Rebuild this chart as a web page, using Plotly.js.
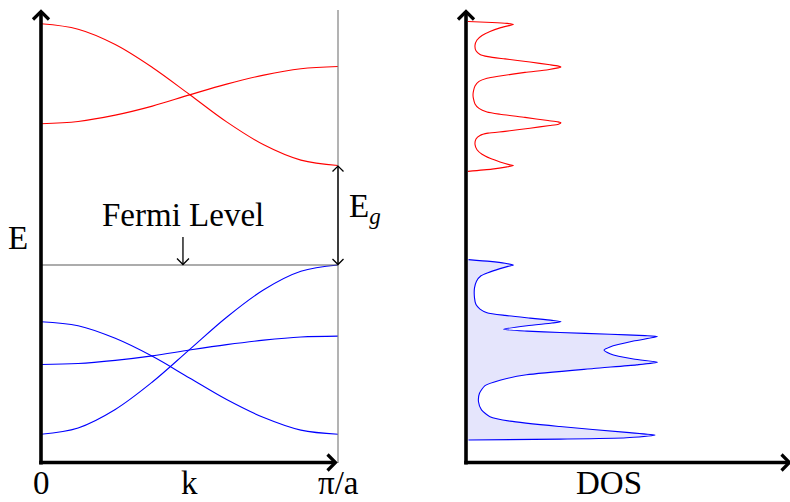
<!DOCTYPE html>
<html>
<head>
<meta charset="utf-8">
<script src="https://cdn.plot.ly/plotly-3.0.1.min.js"></script>
<style>
  html, body { margin: 0; padding: 0; background: #ffffff; }
  #chart { width: 790px; height: 502px; }
</style>
</head>
<body>
<div id="chart"></div>
<script>
// ---- Band structure: energies (eV) along k from 0 to pi/a ----
const kPoints = [0, 0.125, 0.25, 0.375, 0.5, 0.625, 0.75, 0.875, 1];
const conductionBand1 = [9.76, 9.64, 9.30, 8.79, 8.19, 7.58, 7.07, 6.73, 6.61];
const conductionBand2 = [7.54, 7.59, 7.73, 7.93, 8.18, 8.42, 8.62, 8.76, 8.81];
const valenceBand1 = [0.64, 0.78, 1.19, 1.80, 2.52, 3.24, 3.85, 4.26, 4.40];
const valenceBand2 = [3.14, 3.05, 2.77, 2.37, 1.89, 1.41, 1.01, 0.73, 0.64];
const valenceBand3 = [2.19, 2.21, 2.28, 2.38, 2.51, 2.63, 2.73, 2.80, 2.82];

// ---- Density of states (arbitrary units) versus energy (eV) ----
const condDosEnergy = [9.81, 9.79, 9.77, 9.75, 9.72, 9.67, 9.59, 9.50, 9.40, 9.28,
  9.16, 9.08, 9.03, 8.98, 8.91, 8.85, 8.82, 8.80, 8.78, 8.74,
  8.68, 8.60, 8.55, 8.48, 8.38, 8.27, 8.18, 8.09, 7.98, 7.88,
  7.80, 7.75, 7.68, 7.61, 7.58, 7.56, 7.53, 7.50, 7.44, 7.37,
  7.33, 7.28, 7.20, 7.08, 6.96, 6.86, 6.77, 6.69, 6.63, 6.61,
  6.58, 6.53, 6.48];
const condDos = [0.04, 0.52, 0.82, 0.95, 0.86, 0.68, 0.48, 0.32, 0.22, 0.18,
  0.20, 0.28, 0.44, 0.78, 1.28, 1.68, 1.85, 1.90, 1.84, 1.64,
  1.18, 0.68, 0.42, 0.26, 0.18, 0.15, 0.14, 0.15, 0.18, 0.26,
  0.42, 0.68, 1.18, 1.64, 1.84, 1.90, 1.85, 1.68, 1.28, 0.78,
  0.44, 0.28, 0.20, 0.18, 0.22, 0.32, 0.48, 0.68, 0.86, 0.95,
  0.82, 0.52, 0.04];

const valDosEnergy = [4.52, 4.48, 4.44, 4.40, 4.37, 4.32, 4.23, 4.16, 4.04, 3.89,
  3.67, 3.52, 3.42, 3.34, 3.28, 3.22, 3.17, 3.14, 3.11, 3.05,
  2.97, 2.93, 2.90, 2.86, 2.83, 2.81, 2.71, 2.58, 2.51, 2.43,
  2.31, 2.24, 2.18, 2.10, 1.96, 1.84, 1.72, 1.55, 1.36, 1.18,
  1.03, 0.93, 0.81, 0.68, 0.62, 0.56, 0.53, 0.51];
const valDos = [0.05, 0.48, 0.78, 0.95, 0.84, 0.68, 0.44, 0.30, 0.21, 0.17,
  0.17, 0.20, 0.28, 0.42, 0.78, 1.28, 1.72, 1.90, 1.72, 1.22,
  0.75, 1.22, 1.88, 2.88, 3.58, 3.83, 3.35, 2.88, 2.76, 2.88,
  3.35, 3.83, 3.41, 2.55, 1.21, 0.68, 0.38, 0.27, 0.25, 0.31,
  0.48, 0.88, 1.88, 3.21, 3.78, 3.21, 1.88, 0.05];

// ---- Labels ----
const kTickLabels = ['0', 'k', 'π/a'];
const energyLabel = 'E';
const dosLabel = 'DOS';
const fermiLabel = 'Fermi Level';
const gapLabel = 'E<sub><i>g</i></sub>';

// ---- Page geometry (pixels) ----
const W = 790, H = 502;
const bandBox = { left: 41, right: 338, bottom: 463, top: 13 };
const dosBox = { left: 466, right: 790, bottom: 463, top: 13 };
const E_MAX = 10, K_MAX = 1, DOS_MAX = 6.48;

const fx = p => p / W;
const fy = p => 1 - p / H;
const bandPx = (k, e) => [
  bandBox.left + (k / K_MAX) * (bandBox.right - bandBox.left),
  bandBox.bottom - (e / E_MAX) * (bandBox.bottom - bandBox.top)
];

const FONT = { family: '"Liberation Serif", "DejaVu Serif", serif', size: 33, color: '#000000' };

// straight line between two pixel points
function seg(x0, y0, x1, y1, color, width) {
  return { type: 'line', xref: 'paper', yref: 'paper',
    x0: fx(x0), y0: fy(y0), x1: fx(x1), y1: fy(y1),
    line: { color: color, width: width } };
}
// open chevron arrow tip; (dx, dy) points toward the tip
function chevron(tx, ty, dx, dy, len, half, width) {
  const bx = tx - dx * len, by = ty - dy * len;
  const px = -dy * half, py = dx * half;
  const p = [[bx + px, by + py], [tx, ty], [bx - px, by - py]]
    .map(q => fx(q[0]).toFixed(5) + ',' + fy(q[1]).toFixed(5));
  return { type: 'path', xref: 'paper', yref: 'paper',
    path: 'M' + p[0] + ' L' + p[1] + ' L' + p[2],
    line: { color: '#000000', width: width } };
}

const fermiEnergy = valenceBand1[valenceBand1.length - 1];
const cbmEnergy = conductionBand1[conductionBand1.length - 1];
const fermiK = 0.478;

const shapes = [];
// zone-edge guide and Fermi level
shapes.push(seg(bandBox.right, 10, bandBox.right, bandBox.bottom, '#808080', 1.2));
{
  const a = bandPx(0, fermiEnergy), b = bandPx(K_MAX, fermiEnergy);
  shapes.push(seg(a[0], a[1], b[0], b[1], '#5a5a5a', 1.2));
}
// band-gap double arrow
{
  const a = bandPx(K_MAX, fermiEnergy), b = bandPx(K_MAX, cbmEnergy);
  shapes.push(seg(a[0], a[1] - 0.5, b[0], b[1] + 0.5, '#000000', 1.3));
  shapes.push(chevron(b[0], b[1] + 0.5, 0, -1, 5.5, 5.5, 1.3));
  shapes.push(chevron(a[0], a[1] - 0.5, 0, 1, 5.5, 5.5, 1.3));
}
// Fermi level pointer
{
  const t = bandPx(fermiK, fermiEnergy);
  shapes.push(seg(t[0], 237, t[0], t[1] - 0.5, '#000000', 1.3));
  shapes.push(chevron(t[0], t[1] - 0.5, 0, 1, 6, 6, 1.3));
}
// axes with arrow tips
const AX = 3.6;
shapes.push(seg(bandBox.left, 464.5, bandBox.left, 12, '#000000', AX));
shapes.push(chevron(bandBox.left, 11.5, 0, -1, 8, 8, 3.2));
shapes.push(seg(39.2, 462.5, 335, 462.5, '#000000', AX));
shapes.push(chevron(335.5, 462.5, 1, 0, 8, 8, 3.2));
shapes.push(seg(dosBox.left, 464.5, dosBox.left, 12, '#000000', AX));
shapes.push(chevron(dosBox.left, 11.5, 0, -1, 8, 8, 3.2));
shapes.push(seg(464.2, 462.5, 789, 462.5, '#000000', AX));
shapes.push(chevron(789.5, 462.5, 1, 0, 8, 8, 3.2));

const bandLine = c => ({ color: c, width: 1.1, shape: 'spline', smoothing: 1 });
const traces = [
  { x: kPoints, y: conductionBand1, mode: 'lines', line: bandLine('#ff0000'), xaxis: 'x', yaxis: 'y' },
  { x: kPoints, y: conductionBand2, mode: 'lines', line: bandLine('#ff0000'), xaxis: 'x', yaxis: 'y' },
  { x: kPoints, y: valenceBand1, mode: 'lines', line: bandLine('#0000ff'), xaxis: 'x', yaxis: 'y' },
  { x: kPoints, y: valenceBand2, mode: 'lines', line: bandLine('#0000ff'), xaxis: 'x', yaxis: 'y' },
  { x: kPoints, y: valenceBand3, mode: 'lines', line: bandLine('#0000ff'), xaxis: 'x', yaxis: 'y' },
  { x: valDos, y: valDosEnergy, mode: 'lines', fill: 'tozerox', fillcolor: '#e5e5fc',
    line: { color: '#0000ff', width: 1.1, shape: 'spline', smoothing: 0.6 }, xaxis: 'x2', yaxis: 'y2' },
  { x: condDos, y: condDosEnergy, mode: 'lines',
    line: { color: '#ff0000', width: 1.1, shape: 'spline', smoothing: 0.6 }, xaxis: 'x2', yaxis: 'y2' }
];

const hidden = { showgrid: false, zeroline: false, showline: false, showticklabels: false, ticks: '', fixedrange: true };
const yDomain = [fy(bandBox.bottom), fy(bandBox.top)];

const ann = (text, x, y, xanchor) => ({ text: text, xref: 'paper', yref: 'paper',
  x: fx(x), y: fy(y), xanchor: xanchor || 'center', yanchor: 'middle', showarrow: false, font: FONT });
// labels along the bottom edge sit on the page's lower border
const bottomAnn = (text, x) => ({ text: text, xref: 'paper', yref: 'paper',
  x: fx(x), y: fy(501.8), xanchor: 'center', yanchor: 'bottom', borderpad: 0, showarrow: false, font: FONT });

const kTickPos = [0, 0.5, 1].map(k => bandPx(k, 0)[0]);
const annotations = [
  bottomAnn(kTickLabels[0], kTickPos[0]),
  bottomAnn(kTickLabels[1], kTickPos[1]),
  bottomAnn(kTickLabels[2], kTickPos[2]),
  bottomAnn(dosLabel, 608.5),
  ann(energyLabel, 18, 238),
  ann(fermiLabel, bandPx(fermiK, 0)[0], 215),
  ann(gapLabel, 347, 208, 'left')
];

const layout = {
  width: W, height: H,
  margin: { l: 0, r: 0, t: 0, b: 0, pad: 0 },
  font: FONT,
  paper_bgcolor: '#ffffff', plot_bgcolor: 'rgba(0,0,0,0)',
  showlegend: false,
  xaxis: Object.assign({ domain: [fx(bandBox.left), fx(bandBox.right)], range: [0, K_MAX], anchor: 'y' }, hidden),
  yaxis: Object.assign({ domain: yDomain, range: [0, E_MAX], anchor: 'x' }, hidden),
  xaxis2: Object.assign({ domain: [fx(dosBox.left), fx(dosBox.right)], range: [0, DOS_MAX], anchor: 'y2' }, hidden),
  yaxis2: Object.assign({ domain: yDomain, range: [0, E_MAX], anchor: 'x2' }, hidden),
  shapes: shapes,
  annotations: annotations
};

Plotly.newPlot('chart', traces, layout, { staticPlot: true, displayModeBar: false });
</script>
</body>
</html>
